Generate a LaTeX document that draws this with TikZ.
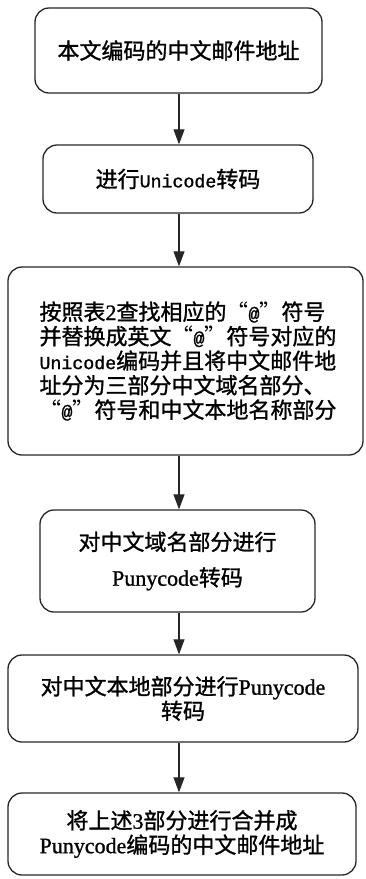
\documentclass[tikz,border=0pt]{standalone}
\usepackage{fontspec}
\setmainfont{Noto Sans CJK SC}[FakeBold=1.2]
\newfontfamily\mono{Liberation Mono}[Scale=0.83,FakeBold=1.2]
\newfontfamily\serif{Liberation Serif}[FakeBold=1]
\newfontfamily\fw{Noto Sans CJK SC}[CharacterWidth=Full]
\usetikzlibrary{arrows.meta}
\tikzset{
  stepbox/.style={draw=black!85, line width=1.3pt, rounded corners=14pt, inner sep=0pt,
    font=\fontsize{22}{24.5}\selectfont, align=center},
  arr/.style={draw=black!85, line width=1.1pt, -{Triangle[width=11pt,length=15pt]}}
}
\newcommand{\myLq}{{\fw “}}
\newcommand{\myRq}{{\fw ”}}
\begin{document}
\begin{tikzpicture}[x=1pt,y=-1pt]
\useasboundingbox (0,0) rectangle (366,879);
\node[stepbox, minimum width=287pt, minimum height=85pt] (b1) at (178.5,50.5) {本文编码的中文邮件地址};
\node[stepbox, minimum width=270pt, minimum height=68pt] (b2) at (178,179) {进行{\mono Unicode}转码};
\node[stepbox, minimum width=355pt, minimum height=188pt, align=left, text width=292pt] (b3) at (185.5,361)
  {按照表{\serif 2}查找相应的\myLq{\mono @}\myRq 符号\\并替换成英文\myLq{\mono @}\myRq 符号对应的\\{\mono Unicode}编码并且将中文邮件地\\址分为三部分中文域名部分、\\\myLq{\mono @}\myRq 符号和中文本地名称部分};
\node[stepbox, minimum width=275pt, minimum height=102pt] (b4) at (177.5,561) {对中文域名部分进行\\[11pt]{\serif Punycode}转码};
\node[stepbox, minimum width=350pt, minimum height=87pt] (b5) at (183,698.5) {对中文本地部分进行{\serif Punycode}\\转码};
\node[stepbox, minimum width=348pt, minimum height=82pt] (b6) at (182,834) {将上述{\serif 3}部分进行合并成\\{\serif Punycode}编码的中文邮件地址};
\coordinate (ax) at (179,0);
\draw[arr] (b1.south -| ax) -- (b2.north -| ax);
\draw[arr] (b2.south -| ax) -- (b3.north -| ax);
\draw[arr] (b3.south -| ax) -- (b4.north -| ax);
\draw[arr] (b4.south -| ax) -- (b5.north -| ax);
\draw[arr] (b5.south -| ax) -- (b6.north -| ax);
\end{tikzpicture}
\end{document}
